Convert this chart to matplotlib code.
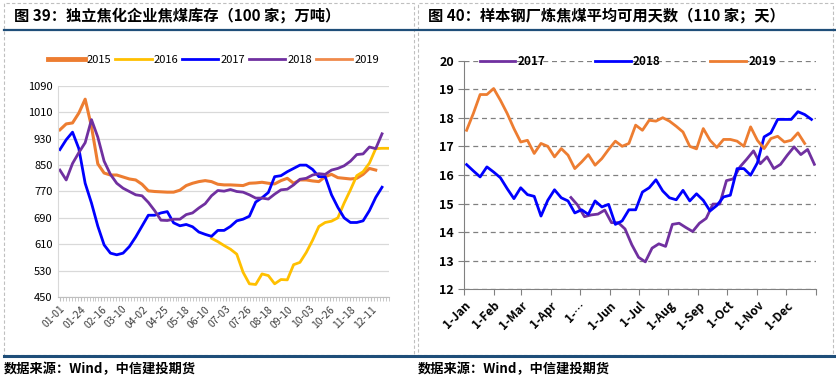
import numpy as np
import matplotlib.pyplot as plt
from matplotlib.patches import Rectangle
from matplotlib.lines import Line2D

plt.rcParams['font.family'] = ['Noto Sans CJK SC', 'DejaVu Sans']

# 图39 数据：按周（第 w 周），万吨
inv_2015 = [957, 975, 978, 1008, 1050, 967, 854, 826, 820, 820, 814, 808, 805, 792, 772,
            770, 769, 768, 768, 774, 788, 795, 800, 803, 800, 792, 790, 790, 789, 788,
            795, 796, 798, 795, 793, 803, 810, 795, 805, 805, 802, 800, 815, 822, 812,
            810, 808, 810, 822, 840, 835]
inv_2016_start = 24
inv_2016 = [628, 618, 606, 595, 580, 525, 490, 488, 520, 515, 490, 503, 502, 548, 555,
            585, 622, 664, 676, 680, 690, 735, 775, 818, 830, 856, 900, 901, 901]
inv_2017 = [897, 927, 950, 900, 795, 735, 665, 608, 583, 578, 583, 603, 632, 665, 698,
            698, 705, 709, 675, 666, 670, 663, 647, 640, 634, 652, 652, 664, 681, 686,
            695, 738, 751, 767, 815, 818, 830, 840, 850, 850, 837, 815, 815, 760, 722,
            690, 676, 676, 681, 712, 752, 783]
inv_2018 = [835, 805, 855, 888, 918, 988, 935, 862, 822, 795, 780, 770, 760, 757, 737,
            712, 683, 682, 686, 686, 700, 705, 720, 733, 757, 773, 771, 776, 770, 768,
            760, 750, 750, 747, 762, 775, 777, 790, 807, 810, 820, 824, 822, 835, 840,
            848, 862, 882, 884, 905, 900, 945]
inv_2019 = []
left_tick_labels = ['01-01', '01-24', '02-16', '03-10', '04-02', '04-25', '05-18', '06-10',
                    '07-03', '07-26', '08-18', '09-10', '10-03', '10-26', '11-18', '12-11']

# 图40 数据：天数，按周
days_2017_start = 111
days_2017 = [15.21, 14.94, 14.54, 14.60, 14.63, 14.77, 14.33, 14.33, 14.11, 13.56, 13.12,
             12.96, 13.44, 13.59, 13.50, 14.27, 14.31, 14.16, 14.02, 14.31, 14.48, 14.98,
             14.98, 15.80, 15.86, 16.28, 16.55, 16.84, 16.39, 16.63, 16.22, 16.37, 16.69,
             16.98, 16.71, 16.89, 16.37]
days_2018 = [16.36, 16.14, 15.93, 16.28, 16.10, 15.90, 15.52, 15.17, 15.55, 15.31, 15.25,
             14.56, 15.11, 15.48, 15.20, 15.09, 14.67, 14.78, 14.62, 15.09, 14.88, 14.97,
             14.27, 14.39, 14.78, 14.78, 15.40, 15.55, 15.83, 15.44, 15.20, 15.13, 15.46,
             15.09, 15.34, 15.11, 14.74, 14.93, 15.23, 15.29, 16.22, 16.22, 15.99, 16.42,
             17.33, 17.47, 17.94, 17.94, 17.94, 18.21, 18.11, 17.94]
days_2019 = [17.56, 18.15, 18.81, 18.81, 19.02, 18.61, 18.15, 17.62, 17.15, 17.21, 16.75,
             17.10, 17.00, 16.63, 16.92, 16.69, 16.22, 16.45, 16.71, 16.34, 16.57, 16.89,
             17.18, 17.00, 17.10, 17.74, 17.56, 17.91, 17.88, 18.00, 17.88, 17.70, 17.50,
             17.00, 16.91, 17.62, 17.21, 16.96, 17.24, 17.24, 17.18, 17.00, 17.68, 17.21,
             16.92, 17.27, 17.35, 17.15, 17.21, 17.47, 17.10]
month_starts = [0, 31, 59, 90, 120, 151, 181, 212, 243, 273, 304, 334, 365]
month_labels = ['1-Jan', '1-Feb', '1-Mar', '1-Apr', '1-…', '1-Jun', '1-Jul', '1-Aug',
                '1-Sep', '1-Oct', '1-Nov', '1-Dec', '']

fig = plt.figure(figsize=(8.36, 3.8), dpi=100)
W, H = 836, 380


def fx(px):
    return px / W


def fy(py):
    return 1 - py / H


# 面板边框、标题、分隔线
for x0, x1 in [(4, 414), (418, 833)]:
    fig.patches.append(Rectangle((fx(x0), fy(355)), fx(x1 - x0), (355 - 3) / H,
                                 transform=fig.transFigure, fill=False,
                                 ec='#BFBFBF', lw=0.8, ls=(0, (3, 2))))
fig.add_artist(Line2D([fx(4), fx(836)], [fy(30), fy(30)], color='#1F4E79', lw=1.6))
fig.add_artist(Line2D([fx(4), fx(836)], [fy(356), fy(356)], color='#1F4E79', lw=2.2))
fig.text(fx(14), fy(16), '图 39：独立焦化企业焦煤库存（100 家；万吨）',
         fontsize=11, fontweight='bold', va='center')
fig.text(fx(428), fy(16), '图 40：样本钢厂炼焦煤平均可用天数（110 家；天）',
         fontsize=11, fontweight='bold', va='center')
for x0 in [4, 418]:
    fig.text(fx(x0), fy(369), '数据来源：Wind，中信建投期货', fontsize=9.5,
             fontweight='bold', style='italic', va='center')

# 左图
ax1 = fig.add_axes([fx(58), fy(297), fx(331), (297 - 86) / H])
w15 = np.arange(len(inv_2015))
w16 = np.arange(len(inv_2016)) + inv_2016_start
w17 = np.arange(len(inv_2017))
w18 = np.arange(len(inv_2018))
w19 = np.arange(len(inv_2019))
ax1.plot(w15, inv_2015, color='#ED7D31', lw=2.2, label='2015')
ax1.plot(w16, inv_2016, color='#FFC000', lw=2.0, label='2016')
ax1.plot(w17, inv_2017, color='#0000FF', lw=2.0, label='2017')
ax1.plot(w18, inv_2018, color='#7030A0', lw=2.0, label='2018')
ax1.plot(w19, inv_2019, color='#F08A4B', lw=2.0, label='2019')
ax1.set_xlim(-0.3, 51.8)
ax1.set_ylim(450, 1090)
ax1.set_yticks(np.arange(450, 1091, 80))
ax1.yaxis.grid(True, color='#D9D9D9', lw=0.9)
ax1.set_axisbelow(True)
major_days = np.arange(len(left_tick_labels)) * 23
ax1.set_xticks(major_days / 7)
ax1.set_xticklabels(left_tick_labels, rotation=45, ha='right', rotation_mode='anchor',
                    fontsize=7.5, color='#404040')
ax1.set_xticks(np.arange(0, 365, 23 / 7) / 7, minor=True)
ax1.tick_params(axis='x', which='both', length=3, color='#BFBFBF', pad=2)
ax1.tick_params(axis='y', length=0, labelsize=8, pad=4)
for s in ['top', 'right']:
    ax1.spines[s].set_visible(False)
ax1.spines['left'].set_color('#D9D9D9')
ax1.spines['bottom'].set_color('#BFBFBF')
leg1 = ax1.legend(loc='center', bbox_to_anchor=(0.47, 1.125), ncol=5, frameon=False,
                  fontsize=8, handlelength=3.3, handletextpad=0.2, columnspacing=0.3)
leg1.get_lines()[0].set_linewidth(3.5)

# 右图
ax2 = fig.add_axes([fx(463.7), fy(289.3), fx(352.6), (289.3 - 60.5) / H])
d17 = days_2017_start + 7 * np.arange(len(days_2017))
d18 = 3 + 7 * np.arange(len(days_2018))
d19 = 3 + 7 * np.arange(len(days_2019))
ax2.plot(d17, days_2017, color='#7030A0', lw=2.0, label='2017')
ax2.plot(d18, days_2018, color='#0000FF', lw=2.0, label='2018')
ax2.plot(d19, days_2019, color='#ED7D31', lw=2.0, label='2019')
ax2.set_xlim(0, 365)
ax2.set_ylim(12, 20)
ax2.set_yticks(np.arange(12, 21, 1))
ax2.yaxis.grid(True, color='#808080', lw=0.9, ls=(0, (4, 3)))
ax2.set_axisbelow(True)
ax2.set_xticks(month_starts)
ax2.set_xticklabels(month_labels, rotation=45, ha='right', rotation_mode='anchor',
                    fontsize=8.5, fontweight='bold')
ax2.tick_params(axis='x', length=4, color='#808080', pad=3)
ax2.tick_params(axis='y', length=4, color='#808080', labelsize=9, pad=3)
for lab in ax2.get_yticklabels():
    lab.set_fontweight('bold')
for s in ['top', 'right']:
    ax2.spines[s].set_visible(False)
ax2.spines['left'].set_color('#808080')
ax2.spines['bottom'].set_color('#808080')
ax2.legend(loc='center', bbox_to_anchor=(0.466, 0.995), ncol=3, frameon=False,
           prop={'size': 8.5, 'weight': 'bold'}, handlelength=3.0, handletextpad=0.2,
           columnspacing=4.2)

fig.savefig('out.png', dpi=100)
